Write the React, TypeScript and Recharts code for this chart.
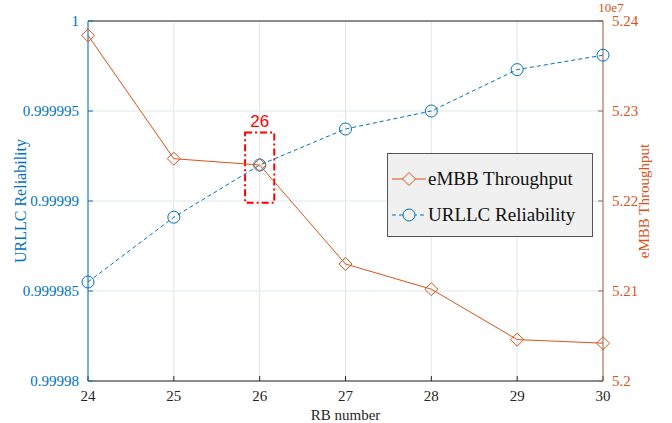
import React from 'react';
import {
  LineChart,
  Line,
  XAxis,
  YAxis,
  CartesianGrid,
  ReferenceArea,
  ReferenceLine,
  Legend,
} from 'recharts';

// RB number on the x axis
const rbNumbers = [24, 25, 26, 27, 28, 29, 30];
const urllcReliability = [0.9999855, 0.9999891, 0.999992, 0.999994, 0.999995, 0.9999973, 0.9999981];
const embbThroughput = [52384000, 52247000, 52240000, 52130000, 52102000, 52046000, 52042000];

const leftTicks = [0.99998, 0.999985, 0.99999, 0.999995, 1];
const rightTicks = [52000000, 52100000, 52200000, 52300000, 52400000];

const data = rbNumbers.map((rb, i) => ({
  rb,
  urllc: urllcReliability[i],
  embb: embbThroughput[i],
}));

const BLUE = '#0072BD';
const ORANGE = '#D95319';
const SERIF = '"Liberation Serif", "Times New Roman", serif';
const SANS = '"Liberation Sans", Arial, sans-serif';

const Diamond = (props: any) => {
  const { cx, cy } = props;
  if (cx == null || cy == null) return null;
  const r = 6.5;
  return (
    <polygon
      points={`${cx},${cy - r} ${cx + r},${cy} ${cx},${cy + r} ${cx - r},${cy}`}
      fill="none"
      stroke={ORANGE}
      strokeWidth={1}
    />
  );
};

const Circle = (props: any) => {
  const { cx, cy } = props;
  if (cx == null || cy == null) return null;
  return <circle cx={cx} cy={cy} r={6} fill="none" stroke={BLUE} strokeWidth={1} />;
};

const LegendBox = () => (
  <div
    style={{
      width: 206,
      height: 84,
      boxSizing: 'border-box',
      background: '#f0f0f0',
      border: '1px solid #555',
      fontFamily: SERIF,
      fontSize: 19,
      color: '#111',
      padding: '7px 0 0 4px',
    }}
  >
    <div style={{ display: 'flex', alignItems: 'center', height: 36 }}>
      <svg width={34} height={16}>
        <line x1={0} y1={8} x2={34} y2={8} stroke={ORANGE} />
        <polygon points="17,1.5 23.5,8 17,14.5 10.5,8" fill="#f0f0f0" stroke={ORANGE} />
      </svg>
      <span style={{ marginLeft: 2 }}>eMBB Throughput</span>
    </div>
    <div style={{ display: 'flex', alignItems: 'center', height: 36 }}>
      <svg width={34} height={16}>
        <line x1={0} y1={8} x2={34} y2={8} stroke={BLUE} strokeDasharray="4 3" />
        <circle cx={17} cy={8} r={6} fill="#f0f0f0" stroke={BLUE} />
      </svg>
      <span style={{ marginLeft: 2 }}>URLLC Reliability</span>
    </div>
  </div>
);

const fmtLeft = (v: number) => String(Number(v.toFixed(6)));
const fmtRight = (v: number) => String(Number((v / 1e7).toFixed(2)));

const ExponentLabel = (props: any) => {
  const { viewBox } = props;
  if (!viewBox) return null;
  return (
    <text x={viewBox.x + viewBox.width + 8} y={viewBox.y - 9} fill={ORANGE} fontSize={13} textAnchor="middle" style={{ fontFamily: SERIF }}>
      10e7
    </text>
  );
};

const serifTick = (fill: string) => ({ fill, fontSize: 15, fontFamily: SERIF, style: { fontFamily: SERIF } });

export default function App() {
  return (
    <div style={{ position: 'absolute', left: 0, top: 0, width: 672, height: 423, background: '#fff', fontFamily: SERIF }}>
      <style>{`.recharts-wrapper text, .recharts-text, .recharts-label { font-family: ${SERIF} !important; } .red-note, .red-note tspan { font-family: ${SANS} !important; }`}</style>
      <LineChart width={672} height={423} data={data} margin={{ top: 21, right: 0, bottom: 0, left: 0 }} style={{ fontFamily: SERIF }}>
        <CartesianGrid yAxisId="left" horizontal={false} stroke="#e4e4e4" />
        <CartesianGrid yAxisId="left" vertical={false} stroke="#dde7ee" />
        <XAxis
          dataKey="rb"
          type="number"
          domain={[24, 30]}
          ticks={rbNumbers}
          height={42}
          axisLine={{ stroke: '#262626' }}
          tickLine={{ stroke: '#262626' }}
          tickSize={-5}
          tick={serifTick('#262626')}
          tickMargin={14}
          label={{ value: 'RB number', position: 'insideBottom', offset: 3, fill: '#262626', fontSize: 15, fontFamily: SERIF }}
        />
        <YAxis
          yAxisId="left"
          domain={[0.99998, 1]}
          ticks={leftTicks}
          tickFormatter={fmtLeft}
          width={88}
          axisLine={{ stroke: BLUE }}
          tickLine={{ stroke: BLUE }}
          tickSize={-5}
          tick={serifTick(BLUE)}
          tickMargin={14}
          label={{ value: 'URLLC Reliability', angle: -90, position: 'insideLeft', offset: 20, fill: BLUE, fontSize: 16, fontFamily: SERIF, style: { textAnchor: 'middle' } }}
        />
        <YAxis
          yAxisId="right"
          orientation="right"
          domain={[52000000, 52400000]}
          ticks={rightTicks}
          tickFormatter={fmtRight}
          width={69}
          axisLine={{ stroke: '#9e6652' }}
          tickLine={{ stroke: '#9e6652' }}
          tickSize={-5}
          tick={serifTick(ORANGE)}
          tickMargin={14}
          label={{ value: 'eMBB Throughput', angle: -90, position: 'insideRight', offset: 28, fill: ORANGE, fontSize: 15, fontFamily: SERIF, style: { textAnchor: 'middle' } }}
        />
        <ReferenceLine yAxisId="left" y={1} stroke="#262626" />
        <ReferenceLine yAxisId="right" y={52400000} stroke="none" label={<ExponentLabel />} />
        <ReferenceArea
          yAxisId="left"
          x1={25.83}
          x2={26.17}
          y1={0.9999899}
          y2={0.9999938}
          fill="none"
          stroke="#ff0000"
          strokeWidth={2}
          strokeDasharray="7 3 2 3"
          label={{ value: '26', position: 'top', offset: 6, fill: '#ff0000', fontSize: 17, className: 'red-note' }}
        />
        <Line
          yAxisId="left"
          dataKey="urllc"
          stroke={BLUE}
          strokeWidth={1}
          strokeDasharray="4 3"
          dot={<Circle />}
          activeDot={false}
          isAnimationActive={false}
        />
        <Line
          yAxisId="right"
          dataKey="embb"
          stroke={ORANGE}
          strokeWidth={1}
          dot={<Diamond />}
          activeDot={false}
          isAnimationActive={false}
        />
        <Legend
          layout="vertical"
          align="center"
          verticalAlign="middle"
          content={<LegendBox />}
          wrapperStyle={{ position: 'absolute', left: 387, top: 153, width: 206 }}
        />
      </LineChart>
    </div>
  );
}
